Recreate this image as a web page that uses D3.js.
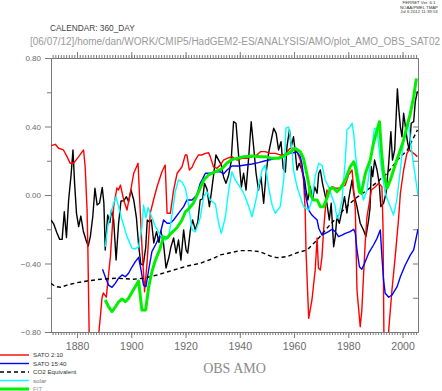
<!DOCTYPE html>
<html>
<head>
<meta charset="utf-8">
<script src="https://cdn.jsdelivr.net/npm/d3@7"></script>
<style>
  body { margin: 0; background: #fff; }
  svg { display: block; }
</style>
</head>
<body>
<div id="vis"></div>
<script>
// values, [year, value]
const obsAmo = [[1870.4,-0.146],[1871.4,-0.169],[1872.6,-0.222],[1873.6,-0.259],[1874.5,-0.259],[1875.3,-0.098],[1876.1,-0.248],[1876.9,-0.029],[1877.8,0.117],[1878.5,0.263],[1879.1,0.068],[1879.8,-0.107],[1880.6,-0.185],[1881.4,-0.123],[1882.3,-0.21],[1883.3,-0.263],[1884.1,-0.298],[1884.9,-0.243],[1885.8,-0.127],[1886.6,0.039],[1887.4,-0.058],[1888.3,-0.047],[1889.3,0.044],[1889.9,-0.048],[1890.4,-0.321],[1891.3,-0.117],[1892.1,-0.161],[1892.7,-0.088],[1893.5,-0.146],[1894.4,-0.38],[1895.3,-0.169],[1896.2,-0.035],[1897.2,-0.034],[1898.2,-0.01],[1899,-0.039],[1899.9,0.029],[1900.9,-0.029],[1901.9,-0.134],[1902.7,-0.292],[1903.5,-0.403],[1904.4,-0.409],[1905.3,-0.309],[1905.9,-0.146],[1906.7,-0.158],[1907.4,-0.146],[1908.3,-0.28],[1909.3,-0.214],[1910.2,-0.277],[1910.9,-0.21],[1911.9,-0.286],[1912.8,-0.426],[1913.8,-0.368],[1914.6,-0.304],[1915.6,-0.251],[1916.5,-0.339],[1917.4,-0.263],[1918.3,-0.38],[1919.3,-0.204],[1920.2,-0.321],[1920.8,-0.339],[1921.8,-0.204],[1922.6,-0.146],[1923.6,-0.204],[1924.5,-0.158],[1925.4,-0.029],[1926.3,-0.023],[1927,0.068],[1927.9,0.035],[1928.8,-0.068],[1929.5,0.012],[1930.4,0.123],[1931.2,0.234],[1932.2,0.204],[1933.2,0.175],[1934,0.107],[1934.9,0.068],[1935.9,0.117],[1936.8,0.194],[1937.7,0.428],[1938.6,0.419],[1939.6,0.224],[1940.6,0.048],[1941.4,0.127],[1942.3,0.029],[1943.3,0.224],[1944.2,0.428],[1945.1,0.282],[1946,0.127],[1946.9,0.029],[1947.8,0.107],[1948.8,-0.048],[1949.7,0.127],[1950.6,0.243],[1951.6,0.321],[1952.5,0.39],[1953.4,0.36],[1954.3,0.263],[1955.2,0.311],[1956,0.156],[1956.8,0.134],[1957.4,0.282],[1958.3,0.38],[1959,0.282],[1959.8,0.34],[1960.5,0.243],[1961.1,0.146],[1961.9,0.185],[1962.9,0.146],[1963.9,0.088],[1964.4,0.029],[1965.1,-0.029],[1966,0.048],[1966.8,-0.029],[1967.6,0.048],[1968.5,0.01],[1969.1,0.127],[1969.7,0.146],[1970.5,0.068],[1971.3,0.01],[1972.1,-0.048],[1973,-0.146],[1973.7,-0.048],[1974.6,-0.302],[1975.2,-0.243],[1975.8,-0.127],[1976.7,-0.165],[1977.7,-0.088],[1978.6,-0.01],[1979.5,-0.105],[1980.1,-0.029],[1981.4,0.088],[1982,0.01],[1983.2,-0.068],[1984.4,-0.165],[1985.6,-0.204],[1986.5,-0.243],[1987.5,-0.146],[1988,-0.078],[1988.5,0.165],[1989,0.107],[1989.7,0.204],[1990.6,0.146],[1991.4,0.068],[1992,-0.068],[1993,-0.048],[1993.9,0.01],[1994.9,0.185],[1995.7,0.37],[1996.3,0.204],[1997.1,0.263],[1998.1,0.62],[1998.6,0.506],[1999.2,0.399],[1999.8,0.34],[2000.4,0.477],[2001.3,0.37],[2001.9,0.302],[2002.5,0.263],[2003.2,0.419],[2004.1,0.428],[2004.7,0.545],[2005.5,0.607]];

const sato210 = [[1870.5,0.288],[1872,0.296],[1873.2,0.273],[1875,0.263],[1876.3,0.224],[1877.5,0.185],[1878.7,0.185],[1880.6,0.224],[1882.4,0.263],[1883,0.165],[1883.7,-0.088],[1884,-0.321],[1884.6,-0.95],[1885.5,-1.5],[1887.3,-1.4],[1888,-0.81],[1888.6,-0.71],[1889.2,-0.6],[1889.7,-0.572],[1890.8,-0.596],[1891.3,-0.514],[1892.3,-0.36],[1893.5,-0.068],[1894.7,0.041],[1895.3,0.029],[1896,0.058],[1897.2,-0.029],[1898.4,-0.088],[1899.6,0.01],[1900.9,0.127],[1902.5,0.185],[1903.1,-0.029],[1904,-0.321],[1904.9,-0.565],[1905.8,-0.399],[1907,-0.105],[1908.2,-0.029],[1909.5,0.048],[1911.3,0.136],[1912.5,0.175],[1913.2,-0.107],[1914.4,-0.107],[1915.6,0.029],[1916.9,0.127],[1918.7,0.165],[1919.9,0.234],[1920.5,0.234],[1921.4,0.146],[1922.4,0.162],[1923.6,0.204],[1924.8,0.234],[1926.1,0.234],[1927.3,0.243],[1928.5,0.247],[1929.1,0.224],[1930.3,0.165],[1931.6,0.156],[1932.8,0.175],[1934,0.204],[1935.3,0.214],[1937.1,0.224],[1939,0.204],[1940.8,0.214],[1942.7,0.214],[1944.5,0.224],[1946.3,0.234],[1947.6,0.253],[1949.4,0.253],[1951.2,0.243],[1953.1,0.243],[1954.9,0.234],[1956.2,0.234],[1957.4,0.253],[1958.6,0.273],[1959.8,0.273],[1961.1,0.253],[1962.3,0.204],[1963.5,0.088],[1964.1,-0.088],[1964.4,-0.321],[1965.4,-0.72],[1966.6,-0.613],[1967.8,-0.438],[1968.5,-0.251],[1969,-0.426],[1969.7,-0.438],[1970.3,-0.36],[1970.9,-0.204],[1971.5,-0.088],[1972.1,0.029],[1972.7,0.012],[1974,0.048],[1975.2,0.041],[1976.4,0.039],[1977.7,0.048],[1978.9,0.058],[1980.1,0.117],[1981.4,0.146],[1982.6,-0.088],[1983.2,-0.555],[1984.4,-0.769],[1985,-0.672],[1985.6,-0.477],[1986.3,-0.263],[1986.9,-0.127],[1988.5,0.029],[1990,0.048],[1991.2,0.068],[1992.4,0.048],[1992.8,-0.185],[1993.2,-0.95],[1994,-1.1],[1994.7,-0.95],[1994.9,-0.79],[1996.1,-0.555],[1997.3,-0.36],[1998.5,-0.146],[1999.2,0.01],[2000.4,0.146],[2001.6,0.243],[2002.5,0.263],[2004.1,0.243],[2005.5,0.224]];

const sato1540 = [[1889.4,-0.434],[1890.4,-0.477],[1891.6,-0.526],[1892.9,-0.539],[1894.1,-0.516],[1895.3,-0.486],[1896.6,-0.467],[1897.8,-0.477],[1899,-0.457],[1900.3,-0.419],[1901.5,-0.389],[1902.7,-0.364],[1903.6,-0.438],[1904.5,-0.526],[1905.4,-0.535],[1906.4,-0.438],[1907.6,-0.331],[1908.9,-0.292],[1910.4,-0.243],[1911.9,-0.146],[1913.2,-0.165],[1914.4,-0.165],[1915.6,-0.146],[1917.4,-0.107],[1919.3,-0.068],[1920.5,-0.029],[1922.4,-0.029],[1924.2,0],[1925.4,0.068],[1926.1,0.088],[1927.3,0.127],[1929.1,0.127],[1931,0.136],[1932.8,0.136],[1934,0.123],[1935.3,0.146],[1937.1,0.169],[1939.6,0.169],[1942,0.175],[1944.5,0.181],[1946.9,0.189],[1949.4,0.2],[1951.9,0.208],[1954.3,0.218],[1956.8,0.234],[1958.6,0.243],[1961.1,0.251],[1962.3,0.224],[1962.9,0.185],[1963.5,0.107],[1964.1,0.01],[1965.4,-0.088],[1966.6,-0.117],[1968.5,-0.146],[1969.1,-0.194],[1970.3,-0.234],[1971.5,-0.224],[1972.7,-0.214],[1974,-0.2],[1975.2,-0.214],[1976.4,-0.243],[1977.7,-0.234],[1978.9,-0.224],[1980.7,-0.214],[1982,-0.2],[1982.6,-0.224],[1983.2,-0.321],[1984.1,-0.419],[1985,-0.434],[1986,-0.399],[1987.5,-0.34],[1989.3,-0.292],[1990.6,-0.253],[1991.8,-0.204],[1992.4,-0.36],[1993,-0.496],[1993.6,-0.574],[1994.9,-0.597],[1996.1,-0.584],[1998,-0.535],[1999.2,-0.477],[2001,-0.409],[2002.9,-0.35],[2004.1,-0.321],[2005.7,-0.2]];

const co2Equiv = [[1870.4,-0.516],[1872,-0.535],[1874,-0.539],[1876.3,-0.526],[1880,-0.512],[1883.7,-0.502],[1888.6,-0.492],[1894.7,-0.486],[1900.9,-0.492],[1904.5,-0.486],[1909.5,-0.467],[1915.6,-0.438],[1920.5,-0.415],[1925.4,-0.399],[1930.3,-0.37],[1932.8,-0.35],[1936.5,-0.337],[1940.2,-0.325],[1943.9,-0.325],[1947.5,-0.331],[1951.2,-0.356],[1953.7,-0.366],[1957.4,-0.36],[1961.1,-0.337],[1964.8,-0.321],[1968.5,-0.263],[1972.2,-0.193],[1975.9,-0.128],[1979.6,-0.064],[1983.3,-0.012],[1987,0.029],[1990.7,0.076],[1994.4,0.128],[1998.1,0.204],[2001.8,0.263],[2005.5,0.38]];

const solar = [[1890.4,-0.302],[1891.3,-0.185],[1892.3,-0.117],[1893.5,-0.048],[1894.4,-0.01],[1895.3,-0.068],[1896.6,-0.146],[1898.4,-0.243],[1900.3,-0.311],[1901.5,-0.315],[1902.7,-0.302],[1903.9,-0.193],[1904.5,-0.058],[1905.4,-0.134],[1906.2,-0.073],[1907,-0.107],[1908.9,-0.185],[1910.7,-0.234],[1912.5,-0.263],[1913.8,-0.243],[1915,-0.117],[1916.2,0.019],[1917.4,0.088],[1918.7,0.076],[1919.9,0.041],[1921.1,-0.058],[1922.4,-0.204],[1923.6,-0.216],[1925.4,-0.134],[1926.7,-0.01],[1927.9,0.019],[1929.1,-0.029],[1931,-0.053],[1932.2,-0.165],[1933.2,-0.224],[1934.7,-0.127],[1935.9,0.029],[1937.1,0.136],[1938.3,0.088],[1939.6,0.058],[1940.8,0.029],[1942,-0.01],[1943.3,-0.068],[1944.5,-0.127],[1945.7,-0.048],[1946.9,0.048],[1948.2,0.146],[1949.4,0.175],[1950.6,0.048],[1951.9,-0.058],[1953.1,-0.107],[1954.9,-0.068],[1956.2,0.088],[1957,0.39],[1958,0.397],[1958.6,0.339],[1959.2,0.263],[1959.8,0.146],[1961.1,0.048],[1962.3,-0.01],[1963.5,-0.068],[1965.4,-0.088],[1966.6,-0.029],[1967.8,0.107],[1969.1,0.185],[1970.3,0.175],[1971.5,0.088],[1972.7,0.048],[1974,-0.01],[1975.2,-0.068],[1975.8,-0.136],[1976.4,-0.127],[1977.7,-0.029],[1978.9,0.204],[1979.5,0.38],[1980.7,0.399],[1981.4,0.419],[1982,0.36],[1982.6,0.243],[1983.2,0.165],[1984.4,0.048],[1985.6,-0.029],[1986.9,0.029],[1988.1,0.185],[1989,0.302],[1989.6,0.39],[1990.6,0.38],[1991.8,0.204],[1993.6,0.01],[1995.5,-0.068],[1996.7,-0.117],[1997.9,-0.029],[1999.2,0.146],[2000.4,0.321],[2001.6,0.399],[2002.2,0.419],[2003.5,0.243],[2004.7,0.107],[2005.7,0]];

const fit = [[1890.4,-0.613],[1891.6,-0.652],[1892.9,-0.681],[1894.1,-0.654],[1895.3,-0.625],[1896.6,-0.607],[1897.8,-0.623],[1899,-0.603],[1900.3,-0.566],[1901.5,-0.534],[1902.7,-0.502],[1903.9,-0.672],[1905.3,-0.672],[1906.4,-0.537],[1907.6,-0.448],[1908.9,-0.38],[1910.4,-0.321],[1911.9,-0.245],[1913.2,-0.251],[1914.4,-0.228],[1916.9,-0.19],[1918.7,-0.146],[1919.9,-0.099],[1921.1,-0.082],[1922.9,-0.048],[1924.8,0.018],[1926.7,0.088],[1928.5,0.117],[1931,0.136],[1933.4,0.153],[1935.3,0.187],[1937.1,0.207],[1939,0.214],[1941.5,0.224],[1944.5,0.228],[1947.6,0.224],[1949.4,0.224],[1951.9,0.214],[1954.3,0.214],[1956.2,0.227],[1958.6,0.251],[1960.4,0.273],[1962.3,0.253],[1963.5,0.214],[1964.4,0.146],[1965.4,0.068],[1966,0],[1967.2,-0.029],[1968.5,-0.029],[1969.7,-0.068],[1970.9,-0.068],[1972.1,-0.019],[1973.4,0.039],[1974.6,0.039],[1975.8,0.019],[1977.1,0.039],[1978.9,0.088],[1980.7,0.165],[1982,0.194],[1982.6,0.165],[1983.2,0.107],[1984.1,0.019],[1984.8,0.01],[1986.3,0.127],[1988.1,0.204],[1989.3,0.302],[1990.6,0.38],[1991.5,0.428],[1992.2,0.263],[1993,0.127],[1994.3,0.039],[1995.5,0.088],[1996.7,0.146],[1997.9,0.204],[1999.2,0.263],[2000.4,0.321],[2001.6,0.399],[2002.9,0.477],[2004.1,0.574],[2005.1,0.681]];

const yearTicks = [1880, 1900, 1920, 1940, 1960, 1980, 2000];
const valueTicks = [-0.8, -0.4, 0, 0.4, 0.8];
const minorValueTicks = [-0.6, -0.2, 0.2, 0.6];
const legendNames = ["SATO 2:10", "SATO 15:40", "CO2 Equivalent", "solar", "FIT"];

const W = 442, H = 391;
const plot = {left: 51, right: 418, top: 58, bottom: 332};
const sans = "'Liberation Sans', Arial, Helvetica, sans-serif";
const axisCol = "#7a7a7a";
const labelCol = "#6a6a6a";

const svg = d3.select("#vis").append("svg")
    .attr("width", W)
    .attr("height", H);

const x = d3.scaleLinear().domain([1870.4, 2005.7]).range([plot.left, plot.right]);
const y = d3.scaleLinear().domain([-0.8, 0.8]).range([plot.bottom, plot.top]);

function styleAxis(g, size) {
  g.select(".domain").attr("stroke", axisCol).attr("stroke-width", 1);
  g.selectAll(".tick line").attr("stroke", axisCol).attr("stroke-width", 1);
  g.selectAll("text").attr("fill", labelCol).style("font-family", sans).style("font-size", size + "px");
}

// yearly minor ticks + 20 year majors
const years = d3.range(1871, 2006);

svg.append("g").attr("transform", `translate(0,${plot.bottom})`)
  .call(d3.axisBottom(x).tickValues(years).tickSize(3).tickSizeOuter(0).tickFormat(""))
  .call(g => styleAxis(g, 10));
svg.append("g").attr("transform", `translate(0,${plot.bottom})`)
  .call(d3.axisBottom(x).tickValues(yearTicks).tickSize(6).tickSizeOuter(0).tickPadding(4.5).tickFormat(d3.format("d")))
  .call(g => styleAxis(g, 10.5));

svg.append("g").attr("transform", `translate(0,${plot.top})`)
  .call(d3.axisTop(x).tickValues(years).tickSize(3).tickSizeOuter(0).tickFormat(""))
  .call(g => styleAxis(g, 10));
svg.append("g").attr("transform", `translate(0,${plot.top})`)
  .call(d3.axisTop(x).tickValues(yearTicks).tickSize(6).tickSizeOuter(0).tickFormat(""))
  .call(g => styleAxis(g, 10));

svg.append("g").attr("transform", `translate(${plot.left},0)`)
  .call(d3.axisLeft(y).tickValues(minorValueTicks).tickSize(4).tickSizeOuter(0).tickFormat(""))
  .call(g => styleAxis(g, 8));
svg.append("g").attr("transform", `translate(${plot.left},0)`)
  .call(d3.axisLeft(y).tickValues(valueTicks).tickSize(6).tickSizeOuter(0).tickPadding(4).tickFormat(d3.format(".2f")))
  .call(g => styleAxis(g, 8));

svg.append("g").attr("transform", `translate(${plot.right},0)`)
  .call(d3.axisRight(y).tickValues(valueTicks.concat(minorValueTicks)).tickSize(-5).tickSizeOuter(0).tickFormat(""))
  .call(g => styleAxis(g, 8));

// lines
svg.append("clipPath").attr("id", "plotclip")
  .append("rect")
  .attr("x", plot.left).attr("y", plot.top)
  .attr("width", plot.right - plot.left).attr("height", plot.bottom - plot.top);

const line = d3.line().x(d => x(d[0])).y(d => y(d[1]));
const lines = svg.append("g").attr("clip-path", "url(#plotclip)");

const series = [
  {data: obsAmo,   color: "#000000", width: 1.4, dash: null},
  {data: sato210,  color: "#ff0000", width: 1.4, dash: null},
  {data: sato1540, color: "#0000ff", width: 1.4, dash: null},
  {data: co2Equiv, color: "#000000", width: 1.4, dash: "4,3"},
  {data: solar,    color: "#00ffff", width: 1.4, dash: null},
  {data: fit,      color: "#00f000", width: 3,   dash: null}
];

series.forEach(s => {
  lines.append("path")
    .attr("d", line(s.data))
    .attr("fill", "none")
    .attr("stroke", s.color)
    .attr("stroke-width", s.width)
    .attr("stroke-linejoin", "round")
    .attr("stroke-dasharray", s.dash);
});

// legend
const legendText = ["#333", "#333", "#333", "#777", "#9a9a9a"];
const legend = svg.append("g");
legendNames.forEach((name, i) => {
  const s = series[i + 1];
  const ly = 355 + i * 8.5;
  legend.append("line")
    .attr("x1", 0).attr("x2", 29)
    .attr("y1", ly).attr("y2", ly)
    .attr("stroke", s.color)
    .attr("stroke-width", s.width)
    .attr("stroke-dasharray", s.dash);
  legend.append("text")
    .attr("x", 33).attr("y", ly + 2.2)
    .attr("fill", legendText[i])
    .style("font-family", sans)
    .style("font-size", "6.2px")
    .text(name);
});

// titles
svg.append("text")
  .attr("x", 50).attr("y", 31)
  .attr("fill", "#444")
  .style("font-family", sans).style("font-size", "8.3px")
  .text("CALENDAR: 360_DAY");

svg.append("text")
  .attr("x", 30).attr("y", 45)
  .attr("fill", "#9a9a9a")
  .attr("textLength", 410).attr("lengthAdjust", "spacingAndGlyphs")
  .style("font-family", sans).style("font-size", "10px")
  .text("[06/07/12]/home/dan/WORK/CMIP5/HadGEM2-ES/ANALYSIS/AMO/plot_AMO_OBS_SAT02");

svg.append("text")
  .attr("x", (plot.left + plot.right) / 2).attr("y", 373)
  .attr("text-anchor", "middle")
  .attr("fill", "#8a8a8a")
  .style("font-family", "'Liberation Serif', 'Times New Roman', serif").style("font-size", "14px")
  .text("OBS AMO");

const stamp = ["FERRET Ver. 6.1", "NOAA/PMEL TMAP", "Jul  6 2012 11:39:53"];
stamp.forEach((t, i) => {
  svg.append("text")
    .attr("x", 419).attr("y", 4 + i * 4.5)
    .attr("text-anchor", "middle")
    .attr("fill", "#333")
    .style("font-family", sans).style("font-size", "4.3px")
    .text(t);
});
</script>
</body>
</html>
